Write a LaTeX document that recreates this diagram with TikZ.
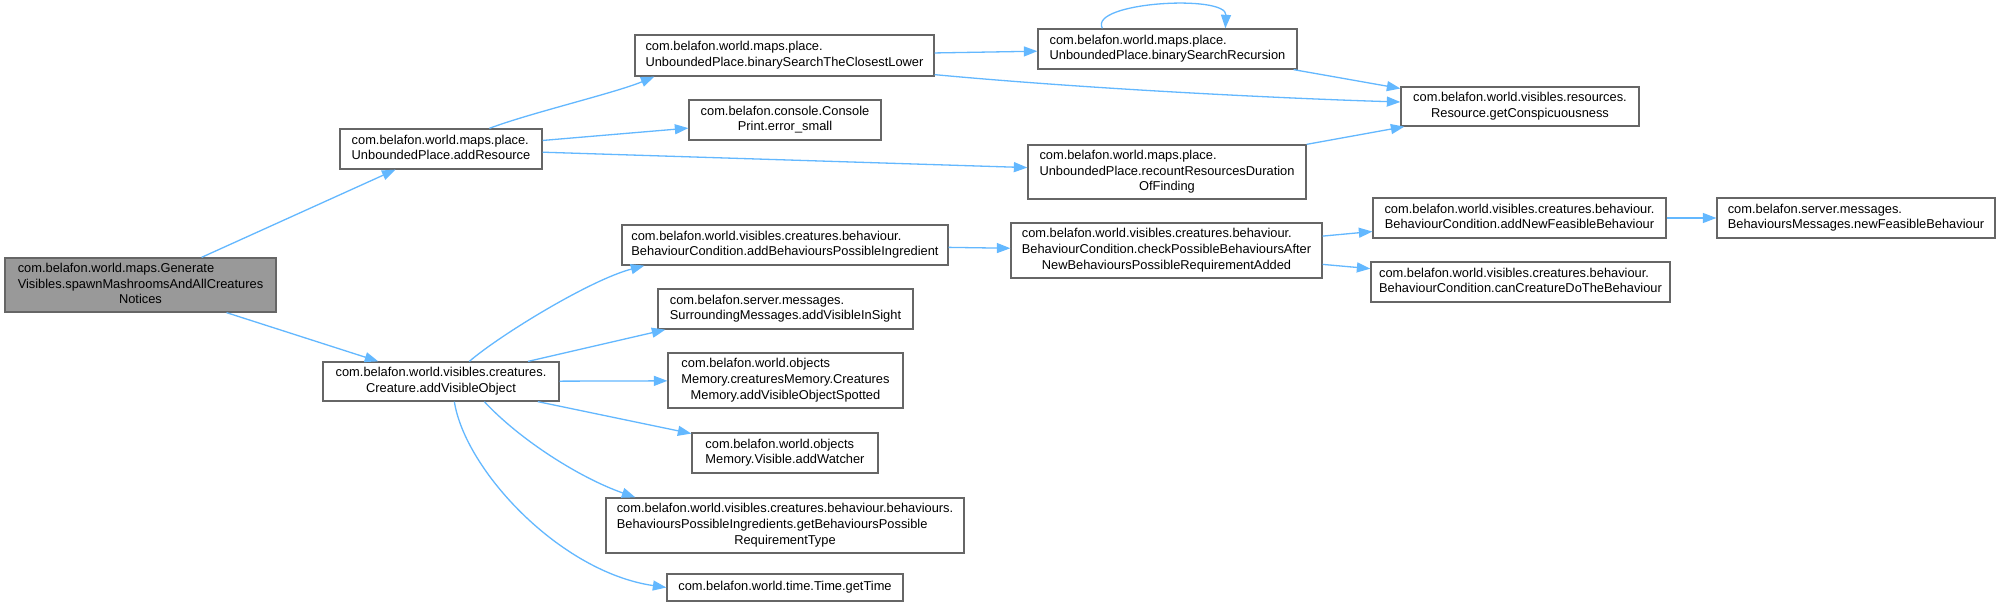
\documentclass[tikz,border=0pt]{standalone}
\usepackage{fontspec}
\setmainfont{Liberation Sans}
\usetikzlibrary{arrows.meta,calc}
\definecolor{edgeblue}{HTML}{63B8FF}
\definecolor{boxgray}{HTML}{666666}
\definecolor{rootfill}{HTML}{999999}
\newcommand{\dlab}[2]{\begin{tabular}{@{}l@{}}#1\\\multicolumn{1}{@{}c@{}}{#2}\end{tabular}}
\begin{document}
\begin{tikzpicture}[x=1pt,y=-1pt,
  box/.style={draw=boxgray, fill=white, line width=1.3pt, inner sep=0pt, rectangle,
    font=\fontsize{12.85}{15.7}\selectfont},
  rootbox/.style={box, fill=rootfill},
  edge/.style={draw=edgeblue, line width=1.3pt, -{Triangle[length=13.5pt,width=10pt]}}
]
\fill[white] (0,0) rectangle (2000,607);
\useasboundingbox (0,0) rectangle (2000,607);

\node[rootbox, minimum width=271pt, minimum height=54pt] (root) at (140.5,285)
  {\dlab{com.belafon.world.maps.Generate\\Visibles.spawnMashroomsAndAllCreatures}{Notices}};
\node[box, minimum width=202pt, minimum height=40pt] (addRes) at (441,149)
  {\dlab{com.belafon.world.maps.place.}{UnboundedPlace.addResource}};
\node[box, minimum width=236pt, minimum height=39pt] (addVis) at (441,381.5)
  {\dlab{com.belafon.world.visibles.creatures.}{Creature.addVisibleObject}};
\node[box, minimum width=299pt, minimum height=41pt] (bsLower) at (784.5,55.5)
  {\dlab{com.belafon.world.maps.place.}{UnboundedPlace.binarySearchTheClosestLower}};
\node[box, minimum width=192pt, minimum height=40pt] (console) at (785,120)
  {\dlab{com.belafon.console.Console}{Print.error\_small}};
\node[box, minimum width=259pt, minimum height=40pt] (bsRec) at (1167.5,49)
  {\dlab{com.belafon.world.maps.place.}{UnboundedPlace.binarySearchRecursion}};
\node[box, minimum width=238pt, minimum height=39pt] (resource) at (1520,106.5)
  {\dlab{com.belafon.world.visibles.resources.}{Resource.getConspicuousness}};
\node[box, minimum width=278pt, minimum height=54pt] (recount) at (1167,172)
  {\dlab{com.belafon.world.maps.place.\\UnboundedPlace.recountResourcesDuration}{OfFinding}};
\node[box, minimum width=326pt, minimum height=40pt] (addBPI) at (785,245)
  {\dlab{com.belafon.world.visibles.creatures.behaviour.}{BehaviourCondition.addBehavioursPossibleIngredient}};
\node[box, minimum width=311pt, minimum height=55pt] (check) at (1166.5,250.5)
  {\dlab{com.belafon.world.visibles.creatures.behaviour.\\BehaviourCondition.checkPossibleBehavioursAfter}{NewBehavioursPossibleRequirementAdded}};
\node[box, minimum width=293pt, minimum height=40pt] (addNew) at (1519.5,218)
  {\dlab{com.belafon.world.visibles.creatures.behaviour.}{BehaviourCondition.addNewFeasibleBehaviour}};
\node[box, minimum width=278pt, minimum height=40pt] (newFeas) at (1856,218)
  {\dlab{com.belafon.server.messages.}{BehavioursMessages.newFeasibleBehaviour}};
\node[box, minimum width=299pt, minimum height=40pt] (canDo) at (1520.5,282)
  {\dlab{com.belafon.world.visibles.creatures.behaviour.}{BehaviourCondition.canCreatureDoTheBehaviour}};
\node[box, minimum width=255pt, minimum height=40pt] (surround) at (785.5,309)
  {\dlab{com.belafon.server.messages.}{SurroundingMessages.addVisibleInSight}};
\node[box, minimum width=235pt, minimum height=55pt] (memory) at (785.5,380.5)
  {\dlab{com.belafon.world.objects\\Memory.creaturesMemory.Creatures}{Memory.addVisibleObjectSpotted}};
\node[box, minimum width=186pt, minimum height=40pt] (watcher) at (785,453)
  {\dlab{com.belafon.world.objects}{Memory.Visible.addWatcher}};
\node[box, minimum width=358pt, minimum height=55pt] (bpi) at (785,525.5)
  {\dlab{com.belafon.world.visibles.creatures.behaviour.behaviours.\\BehavioursPossibleIngredients.getBehavioursPossible}{RequirementType}};
\node[box, minimum width=236pt, minimum height=27pt] (time) at (785,587.5)
  {com.belafon.world.time.Time.getTime};

% edges
\draw[edge] (root) -- (addRes);
\draw[edge] (root) -- (addVis);
\draw[edge] ($(addRes.north west)+(150,0)$) .. controls (530,113) and (615,93) .. ($(bsLower.south west)+(20,0)$);
\draw[edge] (addRes) -- (console);
\draw[edge] (addRes) -- (recount);
\draw[edge] (bsLower) -- (bsRec);
\draw[edge] ($(bsLower.south east)+(0,-2)$) .. controls (1100,90) and (1300,99) .. ($(resource.west)+(0,-4.5)$);
\draw[edge] ($(bsRec.north west)+(65,0)$) .. controls (1088,2) and (1227,-6) .. ($(bsRec.north west)+(188,0)$);
\draw[edge] ($(bsRec.south east)+(-4,0)$) -- ($(resource.west)+(0,-18)$);
\draw[edge] (recount.north east) -- ($(resource.south west)+(4,0)$);
\draw[edge] ($(addVis.north west)+(147,0)$) .. controls (500,335) and (590,280) .. ($(addBPI.south west)+(23,0)$);
\draw[edge] (addVis) -- ($(surround.south west)+(8,0)$);
\draw[edge] (addVis) -- (memory);
\draw[edge] (addVis) -- (watcher);
\draw[edge] ($(addVis.south west)+(162,0)$) .. controls (520,440) and (580,478) .. ($(bpi.north west)+(30,0)$);
\draw[edge] ($(addVis.south west)+(132,0)$) .. controls (465,470) and (560,572) .. (time.west);
\draw[edge] (addBPI) -- (check);
\draw[edge] (check) -- (addNew);
\draw[edge] (check) -- (canDo);
\draw[edge] (addNew) -- (newFeas);
\end{tikzpicture}
\end{document}
